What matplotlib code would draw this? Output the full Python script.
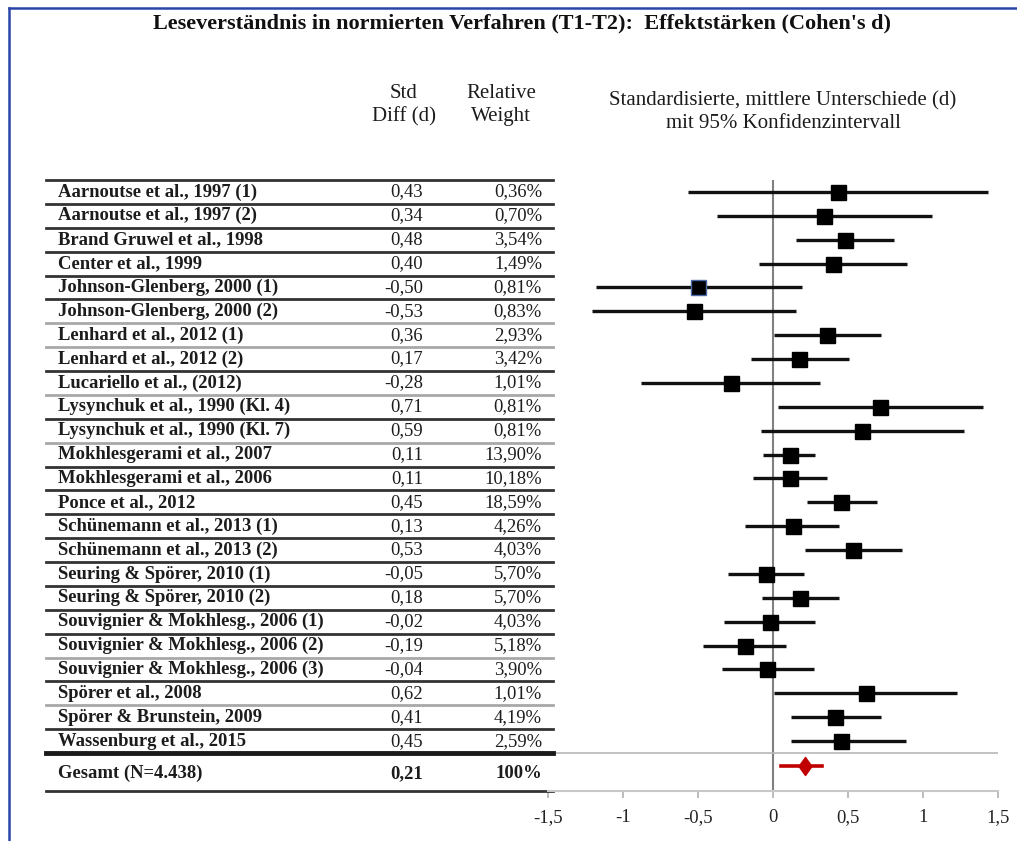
import matplotlib
matplotlib.use("Agg")
import matplotlib.pyplot as plt
import matplotlib.transforms as mtransforms
from matplotlib.lines import Line2D
from matplotlib.path import Path

plt.rcParams['font.family'] = ['Liberation Serif', 'DejaVu Serif']

# ---------------- data ----------------
title = "Leseverständnis in normierten Verfahren (T1-T2):  Effektstärken (Cohen's d)"
studies = [
    "Aarnoutse et al., 1997 (1)", "Aarnoutse et al., 1997 (2)", "Brand Gruwel et al., 1998",
    "Center et al., 1999", "Johnson-Glenberg, 2000 (1)", "Johnson-Glenberg, 2000 (2)",
    "Lenhard et al., 2012 (1)", "Lenhard et al., 2012 (2)", "Lucariello et al., (2012)",
    "Lysynchuk et al., 1990 (Kl. 4)", "Lysynchuk et al., 1990 (Kl. 7)", "Mokhlesgerami et al., 2007",
    "Mokhlesgerami et al., 2006", "Ponce et al., 2012", "Schünemann et al., 2013 (1)",
    "Schünemann et al., 2013 (2)", "Seuring & Spörer, 2010 (1)", "Seuring & Spörer, 2010 (2)",
    "Souvignier & Mokhlesg., 2006 (1)", "Souvignier & Mokhlesg., 2006 (2)",
    "Souvignier & Mokhlesg., 2006 (3)", "Spörer et al., 2008", "Spörer & Brunstein, 2009",
    "Wassenburg et al., 2015",
]
d_values = [0.43, 0.34, 0.48, 0.40, -0.50, -0.53, 0.36, 0.17, -0.28, 0.71, 0.59, 0.11,
            0.11, 0.45, 0.13, 0.53, -0.05, 0.18, -0.02, -0.19, -0.04, 0.62, 0.41, 0.45]
weights = ["0,36%", "0,70%", "3,54%", "1,49%", "0,81%", "0,83%", "2,93%", "3,42%", "1,01%",
           "0,81%", "0,81%", "13,90%", "10,18%", "18,59%", "4,26%", "4,03%", "5,70%", "5,70%",
           "4,03%", "5,18%", "3,90%", "1,01%", "4,19%", "2,59%"]
ci_low = [-0.57, -0.375, 0.153, -0.096, -1.182, -1.209, 0.009, -0.147, -0.88, 0.036, -0.082,
          -0.069, -0.136, 0.224, -0.184, 0.213, -0.298, -0.071, -0.327, -0.469, -0.342, 0.009,
          0.118, 0.118]
ci_high = [1.436, 1.062, 0.807, 0.891, 0.196, 0.153, 0.718, 0.507, 0.316, 1.398, 1.271,
           0.282, 0.358, 0.691, 0.44, 0.858, 0.207, 0.44, 0.282, 0.084, 0.273, 1.229,
           0.718, 0.885]
total_label = "Gesamt (N=4.438)"
total_d = 0.21
total_weight = "100%"
total_ci = (0.053, 0.324)
xticks = [-1.5, -1.0, -0.5, 0.0, 0.5, 1.0, 1.5]
xtick_labels = ["-1,5", "-1", "-0,5", "0", "0,5", "1", "1,5"]

# separator colour pattern (d = dark, g = light)
sep_style = "dddddggdgdgddddddddgdgd"

# ---------------- layout ----------------
W, H = 1017, 841
fig = plt.figure(figsize=(W / 100, H / 100), dpi=100)
fig.patch.set_facecolor("white")

def fx(px):
    return px / W

def fy(py):
    return 1 - py / H

ax_top, ax_bot = 180, 791
ax = fig.add_axes([fx(548), fy(ax_bot), fx(998) - fx(548), (ax_bot - ax_top) / H])
ax.set_xlim(-1.5, 1.5)
y_top, y_bot = -0.5, 25.09
ax.set_ylim(y_bot, y_top)
ax.patch.set_alpha(0)
for s in ["top", "left", "right"]:
    ax.spines[s].set_visible(False)
ax.spines["bottom"].set_color("#c8c8c8")
ax.spines["bottom"].set_linewidth(1.5)
ax.set_yticks([])
ax.set_xticks(xticks)
ax.set_xticklabels(xtick_labels, fontsize=13.4, color="#222222")
ax.tick_params(axis="x", direction="out", length=5, width=1.2, color="#b0b0b0", pad=8)

trans = mtransforms.blended_transform_factory(fig.transFigure, ax.transData)

TXT = "#1c1c1c"
FS = 13.4

# zero line
ax.axvline(0, color="#808080", lw=1.5, zorder=1)

ys = list(range(len(studies)))
for i, y in enumerate(ys):
    ax.plot([ci_low[i], ci_high[i]], [y, y], color="#111111", lw=2.4, solid_capstyle="butt", zorder=3)
    ec = "#4a6aa8" if i == 4 else "black"
    ax.plot([d_values[i]], [y], marker="s", markersize=10.8, color="black",
            markeredgecolor=ec, markeredgewidth=1.0, zorder=4, linestyle="none")
    ax.text(fx(58), y, studies[i], transform=trans, ha="left", va="center",
            fontsize=FS, fontweight="bold", color=TXT, clip_on=False)
    ax.text(fx(423), y, f"{d_values[i]:.2f}".replace(".", ","), transform=trans,
            ha="right", va="center", fontsize=FS, color=TXT, clip_on=False)
    ax.text(fx(542), y, weights[i], transform=trans, ha="right", va="center",
            fontsize=FS, color=TXT, clip_on=False)

# separators
line_x = [fx(46), fx(553)]
ax.plot(line_x, [-0.5, -0.5], transform=trans, color="#333333", lw=2, clip_on=False)
for i, st in enumerate(sep_style):
    col = "#333333" if st == "d" else "#a8a8a8"
    ax.plot(line_x, [i + 0.5, i + 0.5], transform=trans, color=col, lw=2, clip_on=False)
ax.axhline(23.5, color="#b8b8b8", lw=1.2, zorder=1)
ax.plot(line_x, [23.5, 23.5], transform=trans, color="#1a1a1a", lw=3.5, clip_on=False)
ax.plot(line_x, [y_bot, y_bot], transform=trans, color="#333333", lw=2, clip_on=False)

# total row
y_tot = 24.05
diamond = Path([(0, 1), (0.72, 0), (0, -1), (-0.72, 0), (0, 1)],
               [Path.MOVETO, Path.LINETO, Path.LINETO, Path.LINETO, Path.CLOSEPOLY])
ax.plot(list(total_ci), [y_tot, y_tot], color="#c00000", lw=2.6, zorder=3)
ax.plot([total_d], [y_tot], marker=diamond, markersize=13, color="#c00000",
        markeredgecolor="#c00000", linestyle="none", zorder=4)
yt = y_tot + 0.3
ax.text(fx(58), yt, total_label, transform=trans, ha="left", va="center",
        fontsize=FS, fontweight="bold", color=TXT, clip_on=False)
ax.text(fx(423), yt, f"{total_d:.2f}".replace(".", ","), transform=trans, ha="right",
        va="center", fontsize=FS, fontweight="bold", color=TXT, clip_on=False)
ax.text(fx(542), yt, total_weight, transform=trans, ha="right", va="center",
        fontsize=FS, fontweight="bold", color=TXT, clip_on=False)

# headers
HFS = 15
fig.text(fx(522), fy(23), title, ha="center", va="center", fontsize=16,
         fontweight="bold", color="#111111")
fig.text(fx(404), fy(94), "Std", ha="center", va="center", fontsize=HFS, color=TXT)
fig.text(fx(404), fy(117), "Diff (d)", ha="center", va="center", fontsize=HFS, color=TXT)
fig.text(fx(501), fy(94), "Relative", ha="center", va="center", fontsize=HFS, color=TXT)
fig.text(fx(501), fy(117), "Weight", ha="center", va="center", fontsize=HFS, color=TXT)
fig.text(fx(783), fy(101), "Standardisierte, mittlere Unterschiede (d)", ha="center",
         va="center", fontsize=HFS, color=TXT)
fig.text(fx(783), fy(124), "mit 95% Konfidenzintervall", ha="center",
         va="center", fontsize=HFS, color=TXT)

# blue frame (left and top)
fig.add_artist(Line2D([fx(9), fx(9)], [0, fy(8)], transform=fig.transFigure,
                      color="#2946a6", lw=1.8))
fig.add_artist(Line2D([fx(9), 1], [fy(8), fy(8)], transform=fig.transFigure,
                      color="#2946a6", lw=1.8))

fig.savefig("out.png", dpi=100, facecolor="white")
